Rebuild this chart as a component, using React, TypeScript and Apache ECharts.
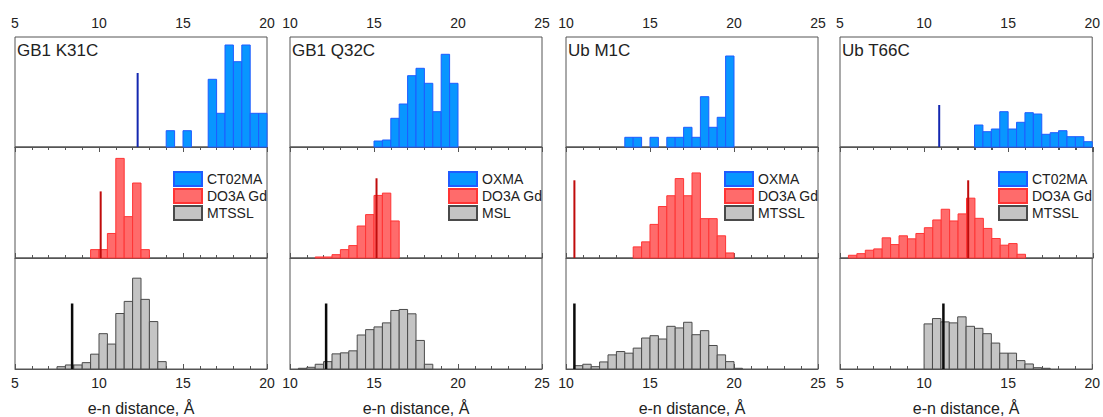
import React, { useEffect, useRef } from "react";
import * as echarts from "echarts";

const BIN = 0.5;
const panelNames = ["GB1 K31C", "GB1 Q32C", "Ub M1C", "Ub T66C"];
const axisMin = [5, 10, 10, 5];
const axisMax = [20, 25, 25, 20];
const legendNames = [
  ["CT02MA", "DO3A Gd", "MTSSL"],
  ["OXMA", "DO3A Gd", "MSL"],
  ["OXMA", "DO3A Gd", "MTSSL"],
  ["CT02MA", "DO3A Gd", "MTSSL"],
];

// histogram bins: first bin's left edge + heights of consecutive 0.5 Å bins
const blueStart = [14.0, 15.0, 13.5, 13.0];
const blueHeights = [
  [16.3, 0, 16.3, 0, 0, 67.7, 33.7, 102, 85.3, 102, 33.7, 33.7],
  [6, 7, 28.7, 43, 71.3, 78.7, 63.7, 35.3, 92.7, 63.7],
  [9.7, 9.7, 0, 9.7, 0, 9.7, 9.7, 19.7, 9.7, 50.3, 19.7, 29.7, 91],
  [22, 15.3, 18, 35.3, 18, 24.7, 34.3, 33, 12.7, 14.3, 16.3, 10.3, 10.3, 5.3],
];
const redStart = [9.5, 11.5, 14.0, 5.5];
const redHeights = [
  [8.3, 8.3, 24.3, 98.7, 41, 74.3, 8.3],
  [1, 1, 3.3, 8.3, 12.3, 31.7, 43, 62, 64.3, 36.7],
  [11, 16, 33.3, 51, 61.7, 78.7, 61.7, 84.3, 39, 39, 22, 5],
  [2.7, 4.3, 7.7, 9, 20, 13.3, 22, 19, 24.3, 30, 37.7, 48.3, 36.7, 43.7, 59.3, 39.3, 29.3, 19.3, 12.7, 14.3, 3.7],
];
const grayStart = [7.5, 10.5, 10.5, 10.0];
const grayHeights = [
  [2.3, 4, 4, 6.3, 14.7, 35, 24.7, 55, 67, 90, 69, 47, 7.3],
  [0.7, 1.7, 4.7, 7.3, 15, 16, 18, 33.7, 39, 41.7, 45.7, 58, 59, 54.7, 28.3, 4.7],
  [3.3, 4.7, 2.3, 7, 14, 17.3, 15.7, 20.7, 30.7, 33, 29.7, 42.3, 40.7, 46.3, 34, 38, 23.3, 14, 7.3, 0.7],
  [44.7, 50, 46.7, 45.7, 51.7, 42.3, 40.3, 35, 25.7, 15.7, 15.7, 8.3, 5, 1.3, 0.7],
];

// reference distance markers: [position, height]; null = none
const blueLine: (number[] | null)[] = [[12.3, 74], null, null, [10.9, 42]];
const redLine = [[10.1, 66], [15.15, 79], [10.5, 77], [12.6, 77]];
const blackLine = [[8.4, 65], [12.15, 65], [10.5, 65], [11.15, 65]];

const YMAX = 110;
const colLeft = [15, 290, 566, 840];
const colRight = [267, 542, 818, 1093];
const rowTop = [37, 147, 258];
const rowBottom = [147, 258, 369];

const FONT = "'Liberation Sans', Arial, sans-serif";
const AXIS_COLOR = "#555";
const TEXT_COLOR = "#222";

const fills = [
  { color: "#0896ff", borderColor: "#1f5cff" },
  { color: "#ff6b6b", borderColor: "#ff3434" },
  { color: "#c4c4c4", borderColor: "#4a4a4a" },
];
const lineColors = ["#1428b0", "#c00c0c", "#0a0a0a"];

function bins(start: number, heights: number[]) {
  const out: number[][] = [];
  heights.forEach((h, i) => {
    if (h > 0) out.push([start + i * BIN, start + (i + 1) * BIN, h]);
  });
  return out;
}

function renderBar(params: any, api: any) {
  const x0 = api.value(0);
  const x1 = api.value(1);
  const h = api.value(2);
  const p0 = api.coord([x0, h]);
  const p1 = api.coord([x1, 0]);
  const st = api.style();
  return {
    type: "rect",
    shape: { x: p0[0], y: p0[1], width: p1[0] - p0[0], height: p1[1] - p0[1] },
    style: { fill: st.fill, stroke: st.stroke, lineWidth: 1 },
  };
}

function buildOption() {
  const grid: any[] = [];
  const xAxis: any[] = [];
  const yAxis: any[] = [];
  const series: any[] = [];
  const title: any[] = [];
  const legend: any[] = [];

  const baseX = (c: number, gridIndex: number, position: string, labels: boolean, name?: string) => ({
    type: "value",
    gridIndex,
    position,
    min: axisMin[c],
    max: axisMax[c],
    interval: 5,
    name: name || "",
    nameLocation: "middle",
    nameGap: 31,
    nameTextStyle: { fontFamily: FONT, fontSize: 16, color: TEXT_COLOR },
    axisLine: { show: true, lineStyle: { color: AXIS_COLOR, width: 1 } },
    axisTick: { show: true, inside: true, length: 5, lineStyle: { color: AXIS_COLOR } },
    minorTick: { show: true, splitNumber: 5, length: 3, lineStyle: { color: AXIS_COLOR } },
    splitLine: { show: false },
    minorSplitLine: { show: false },
    axisLabel: {
      show: labels,
      margin: 7,
      fontFamily: FONT,
      fontSize: 14,
      color: TEXT_COLOR,
      showMinLabel: true,
      showMaxLabel: true,
    },
  });

  for (let c = 0; c < 4; c++) {
    for (let r = 0; r < 3; r++) {
      grid.push({
        left: colLeft[c],
        top: rowTop[r],
        width: colRight[c] - colLeft[c],
        height: rowBottom[r] - rowTop[r],
        show: true,
        borderColor: AXIS_COLOR,
        borderWidth: 1,
        backgroundColor: "#fff",
      });
      yAxis.push({ type: "value", gridIndex: c * 3 + r, min: 0, max: YMAX, show: false });
    }
    const xa = xAxis.length;
    xAxis.push(baseX(c, c * 3, "top", true));
    const xb = xAxis.length;
    xAxis.push(baseX(c, c * 3 + 1, "bottom", false));
    xAxis.push(baseX(c, c * 3 + 1, "top", false));
    const xd = xAxis.length;
    xAxis.push(baseX(c, c * 3 + 2, "bottom", true, "e-n distance, Å"));
    const xIdx = [xa, xb, xd];

    const starts = [blueStart[c], redStart[c], grayStart[c]];
    const heights = [blueHeights[c], redHeights[c], grayHeights[c]];
    for (let r = 0; r < 3; r++) {
      series.push({
        type: "custom",
        name: legendNames[c][r],
        xAxisIndex: xIdx[r],
        yAxisIndex: c * 3 + r,
        renderItem: renderBar,
        encode: { x: [0, 1], y: 2 },
        itemStyle: { color: fills[r].color, borderColor: fills[r].borderColor, borderWidth: 1 },
        data: bins(starts[r], heights[r]),
        z: 2,
      });
    }
    const lines = [blueLine[c], redLine[c], blackLine[c]];
    lines.forEach((ln, r) => {
      if (!ln) return;
      series.push({
        type: "line",
        name: "marker" + c + r,
        xAxisIndex: xIdx[r],
        yAxisIndex: c * 3 + r,
        symbol: "none",
        lineStyle: { color: lineColors[r], width: r === 2 ? 2.5 : 2 },
        data: [
          [ln[0], 0],
          [ln[0], ln[1]],
        ],
        z: 5,
      });
    });

    title.push({
      text: panelNames[c],
      left: colLeft[c] + 2,
      top: 42,
      padding: 0,
      textStyle: { fontFamily: FONT, fontSize: 17, fontWeight: "normal", color: TEXT_COLOR },
    });
    legend.push({
      data: legendNames[c],
      orient: "vertical",
      left: colLeft[c] + 158,
      top: 171,
      padding: 0,
      itemWidth: 28,
      itemHeight: 14,
      itemGap: 1,
      icon: "rect",
      selectedMode: false,
      textStyle: { fontFamily: FONT, fontSize: 14, color: TEXT_COLOR, lineHeight: 15 },
    });
  }

  return {
    animation: false,
    backgroundColor: "#fff",
    title,
    legend,
    grid,
    xAxis,
    yAxis,
    series,
  };
}

export default function App() {
  const ref = useRef<HTMLDivElement>(null);
  useEffect(() => {
    if (!ref.current) return;
    const chart = echarts.init(ref.current, undefined, { renderer: "svg" });
    chart.setOption(buildOption() as any);
    return () => chart.dispose();
  }, []);
  return (
    <div
      ref={ref}
      style={{ position: "fixed", left: 0, top: 0, width: 1103, height: 417, background: "#fff" }}
    />
  );
}
